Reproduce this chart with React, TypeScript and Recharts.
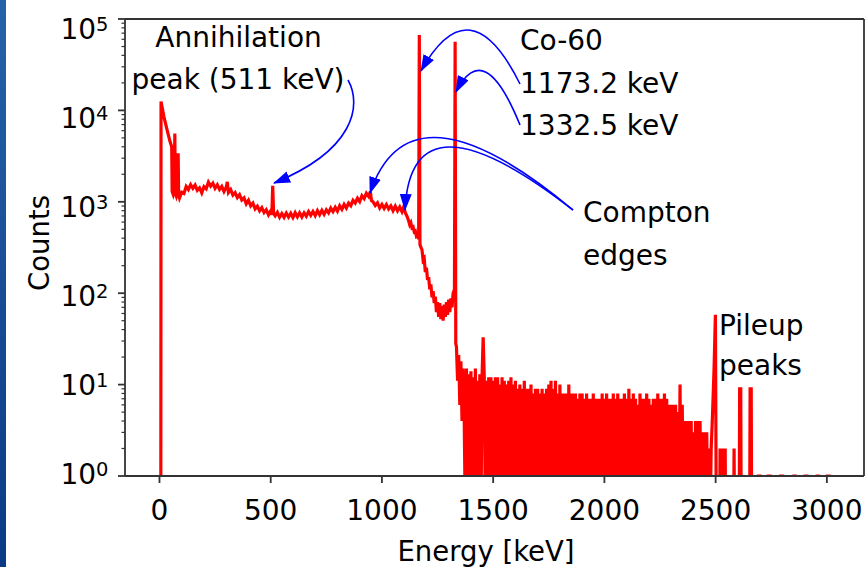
import React from "react";
import { LineChart, Line, XAxis, YAxis, ReferenceLine } from "recharts";

const FONT = "'DejaVu Sans', sans-serif";

// axes
const energyDomain = [-155, 3167];
const energyTicks = [0, 500, 1000, 1500, 2000, 2500, 3000];
const decadeTicks = [1, 10, 100, 1000, 10000, 100000];
const minorSteps = [2, 3, 4, 5, 6, 7, 8, 9];

// spectrum pieces, [energy keV, counts]
const lowEnergyPart: [number, number][] = [
  [0, 0], [6, 0], [7, 12500], [20, 8500], [35, 6000], [48, 4500], [55, 4000],
  [57, 1300], [62, 1200], [66, 1300], [69, 5600], [71, 1250], [76, 1150],
  [80, 1250], [84, 3400], [86, 1200], [90, 1100],
];

const continuumPart: [number, number][] = [
  [100, 1272], [110, 1235], [120, 1470], [130, 1363], [140, 1539], [150, 1406],
  [160, 1526], [170, 1334], [180, 1418], [190, 1250], [200, 1463], [210, 1387],
  [220, 1638], [230, 1485], [240, 1602], [250, 1406], [260, 1537], [270, 1363],
  [280, 1470], [290, 1297], [300, 1442], [305, 1650], [310, 1264], [320, 1365],
  [330, 1184], [340, 1258], [350, 1112], [360, 1198], [370, 1046], [380, 1103],
  [390, 949], [400, 1039], [410, 903], [420, 966], [430, 837], [440, 894],
  [450, 798], [460, 864], [470, 763], [480, 819], [490, 719], [500, 795],
  [505, 720], [509, 1500], [513, 745], [520, 703], [530, 767], [540, 677],
  [550, 744], [560, 676], [570, 753], [580, 682], [590, 748], [600, 672],
  [610, 761], [620, 684], [630, 758], [640, 682], [650, 757], [660, 695],
  [670, 780], [680, 710], [690, 782], [700, 705], [710, 800], [720, 722],
  [730, 806], [740, 729], [750, 816], [760, 755], [770, 853], [780, 782],
  [790, 869], [800, 790], [810, 906], [820, 827], [830, 935], [840, 855],
  [850, 967], [860, 907], [870, 1039], [880, 970], [890, 1092], [900, 1006],
  [910, 1166], [920, 1083], [930, 1239], [940, 1147], [948, 1290], [953, 1030],
  [960, 1000], [970, 912], [980, 977], [990, 855], [1000, 936], [1010, 846],
  [1020, 933], [1030, 835], [1040, 903], [1050, 799], [1060, 896], [1070, 798],
  [1080, 877], [1090, 780], [1098, 880], [1105, 760], [1112, 700], [1120, 620],
  [1125, 560], [1130, 590], [1135, 520], [1140, 530], [1145, 470], [1150, 480],
  [1155, 420], [1160, 430], [1165, 390],
];

// Co-60 lines and the valley between them
const peaksPart: [number, number][] = [
  [1168, 66800], [1171, 340], [1175, 320], [1180, 300], [1185, 230], [1190, 240],
  [1195, 170], [1200, 190], [1205, 140], [1210, 150], [1215, 110], [1220, 125],
  [1225, 90], [1230, 105], [1235, 78], [1240, 92], [1245, 62], [1250, 80],
  [1255, 55], [1260, 78], [1265, 52], [1270, 72], [1275, 50], [1280, 75],
  [1285, 55], [1290, 80], [1295, 58], [1300, 85], [1305, 62], [1310, 88],
  [1315, 70], [1320, 100], [1326, 110], [1329, 56500], [1332, 28],
];

// above 1332 keV: 5 keV bins
const tailStart = 1335;
const tailStep = 5;
const tailCounts = [
  26, 11, 21, 6, 18, 4, 15, 4, 0,
  15, 0, 13, 0, 14, 0, 12, 0, 15, 0, 11, 0, 13, 0, 12, 33, 12, 0, 11, 0,
  12, 0, 12, 0, 11, 0, 12, 0, 12, 0, 10, 0, 12, 0, 11, 0, 10, 0, 11, 0,
  12, 0, 10, 0, 11, 0, 9, 0, 10, 0, 9, 0, 11, 0, 9, 0, 9, 0, 10, 0,
  8, 0, 9, 0, 9, 0, 8, 0, 9, 0, 8, 0, 9, 0, 10, 0, 11, 0, 9, 0,
  11, 0, 8, 0, 10, 0, 8, 0, 8, 0, 8, 0, 10, 0, 8, 0, 8, 0, 8, 0,
  7, 0, 8, 0, 8, 0, 7, 0, 8, 0, 7, 0, 7, 0, 8, 0, 7, 0, 7, 0,
  7, 0, 8, 0, 7, 0, 8, 0, 7, 0, 7, 0, 8, 0, 7, 0, 8, 0, 7, 0,
  7, 0, 8, 0, 7, 0, 9, 0, 7, 0, 8, 0, 7, 0, 6, 0, 8, 0, 7, 0,
  7, 0, 8, 0, 7, 0, 6, 0, 7, 0, 7, 0, 8, 0, 7, 0, 7, 0, 8, 0,
  7, 0, 6, 0, 6, 0, 6, 0, 6, 0, 5, 0, 10, 0, 6, 0, 4, 0, 4, 0,
  4, 0, 4, 0, 3, 0, 4, 0, 4, 0, 4, 0, 3, 0, 3, 0, 3, 0, 2, 0, 2,
];

const pileupPart: [number, number][] = [
  [2485, 4], [2493, 15], [2499, 58], [2503, 0], [2518, 0], [2520, 2], [2522, 0],
  [2527, 0], [2529, 2], [2531, 0], [2541, 0], [2543, 2], [2545, 0], [2581, 0],
  [2583, 2], [2585, 0], [2606, 0], [2608, 9], [2613, 9], [2615, 0], [2653, 0],
  [2655, 9], [2660, 9], [2662, 0], [2690, 0], [2692, 1], [2700, 1], [2702, 0],
  [2735, 0], [2737, 1], [2745, 1], [2747, 0], [2790, 0], [2792, 1], [2800, 1],
  [2802, 0], [2850, 0], [2852, 1], [2858, 1], [2860, 0], [2900, 0], [2902, 1],
  [2910, 1], [2912, 0], [2955, 0], [2957, 1], [2963, 1], [2965, 0], [3000, 0],
  [3002, 1], [3010, 1], [3012, 0], [3025, 0],
];

const spectrum = [
  ...lowEnergyPart,
  ...continuumPart,
  ...peaksPart,
  ...tailCounts.map((c, i) => [tailStart + i * tailStep, c] as [number, number]),
  ...pileupPart,
].map(([e, c]) => ({ e, c: c > 0 ? c : 0.3 })); // empty bins drop below the log axis

const yTicks = [
  ...decadeTicks,
  ...decadeTicks.slice(0, -1).flatMap((d) => minorSteps.map((m) => m * d)),
];

const AXIS = "#333";

const XTick = (props: any) => {
  const { x, y, payload } = props;
  return (
    <text x={x} y={y + 37} textAnchor="middle" fontFamily={FONT} fontSize={28} fill="#000">
      {payload.value}
    </text>
  );
};

const YTick = (props: any) => {
  const { x, y, payload } = props;
  const exp = decadeTicks.indexOf(payload.value);
  if (exp < 0) {
    return <line x1={x - 3.5} x2={x} y1={y} y2={y} stroke={AXIS} strokeWidth={1.2} />;
  }
  return (
    <g>
      <line x1={x - 7} x2={x} y1={y} y2={y} stroke={AXIS} strokeWidth={1.8} />
      <text x={x - 16.5} y={y + 8 + 2.4 * exp} textAnchor="end" fontFamily={FONT} fontSize={28} fill="#000">
        <tspan>10</tspan>
        <tspan dy={-8.5} fontSize={19.5}>{exp}</tspan>
      </text>
    </g>
  );
};

// annotation arrows (pixel space)
const arrowPaths = [
  "M348,80 C362,105 355,150 274,183",
  "M520,84 Q470,-17 421,71",
  "M520,125 Q484,36 456,92",
  "M573,210 Q410,74 370,193",
  "M573,210 Q411,84 405,210",
];

const notes = [
  { t: "Annihilation", x: 238.5, y: 47, a: "middle" },
  { t: "peak (511 keV)", x: 238, y: 89, a: "middle" },
  { t: "Co-60", x: 520, y: 50, a: "start" },
  { t: "1173.2 keV", x: 520, y: 93, a: "start" },
  { t: "1332.5 keV", x: 520, y: 135, a: "start" },
  { t: "Compton", x: 583, y: 222, a: "start" },
  { t: "edges", x: 583, y: 265, a: "start" },
  { t: "Pileup", x: 719, y: 335, a: "start" },
  { t: "peaks", x: 719, y: 375, a: "start" },
];

export default function App() {
  return (
    <div style={{ position: "absolute", left: 0, top: 0, width: 866, height: 567, background: "#fff" }}>
      <LineChart width={866} height={567} data={spectrum} margin={{ top: 19, right: 2, left: 0, bottom: 0 }}>
        <XAxis
          type="number"
          dataKey="e"
          domain={energyDomain}
          ticks={energyTicks}
          interval={0}
          height={91}
          tickSize={7}
          tickMargin={0}
          stroke={AXIS}
          axisLine={{ stroke: AXIS, strokeWidth: 1.8 }}
          tickLine={{ stroke: AXIS, strokeWidth: 1.8 }}
          tick={<XTick />}
        />
        <YAxis
          type="number"
          scale="log"
          domain={[1, 100000]}
          allowDataOverflow
          ticks={yTicks}
          interval={0}
          width={125}
          tickSize={0}
          tickMargin={0}
          tickLine={false}
          stroke={AXIS}
          axisLine={{ stroke: AXIS, strokeWidth: 1.8 }}
          tick={<YTick />}
        />
        <ReferenceLine y={100000} stroke={AXIS} strokeWidth={1.8} />
        <ReferenceLine x={energyDomain[1]} stroke={AXIS} strokeWidth={1.8} />
        <Line
          type="linear"
          dataKey="c"
          stroke="#ff0000"
          strokeWidth={3.2}
          dot={false}
          activeDot={false}
          isAnimationActive={false}
        />
      </LineChart>

      <svg width={866} height={567} style={{ position: "absolute", left: 0, top: 0, pointerEvents: "none" }}>
        <defs>
          <marker id="head" markerUnits="userSpaceOnUse" markerWidth={17} markerHeight={12} refX={16} refY={6} orient="auto">
            <path d="M0,0 L17,6 L0,12 Z" fill="#0000ff" />
          </marker>
        </defs>
        {arrowPaths.map((d, i) => (
          <path key={i} d={d} fill="none" stroke="#0000ff" strokeWidth={1.6} markerEnd="url(#head)" />
        ))}
        {notes.map((n) => (
          <text key={n.t} x={n.x} y={n.y} textAnchor={n.a as any} fontFamily={FONT} fontSize={28} fill="#000">
            {n.t}
          </text>
        ))}
        <text
          x={49}
          y={243}
          transform="rotate(-90, 49, 243)"
          textAnchor="middle"
          fontFamily={FONT}
          fontSize={27.5}
          fill="#000"
        >
          Counts
        </text>
        <text x={486} y={561} textAnchor="middle" fontFamily={FONT} fontSize={27.5} fill="#000">
          Energy [keV]
        </text>
      </svg>
      <div
        style={{
          position: "absolute",
          left: 0,
          top: 0,
          width: 6,
          height: 567,
          background: "linear-gradient(#2563a8, #0b3a85)",
        }}
      />
    </div>
  );
}
